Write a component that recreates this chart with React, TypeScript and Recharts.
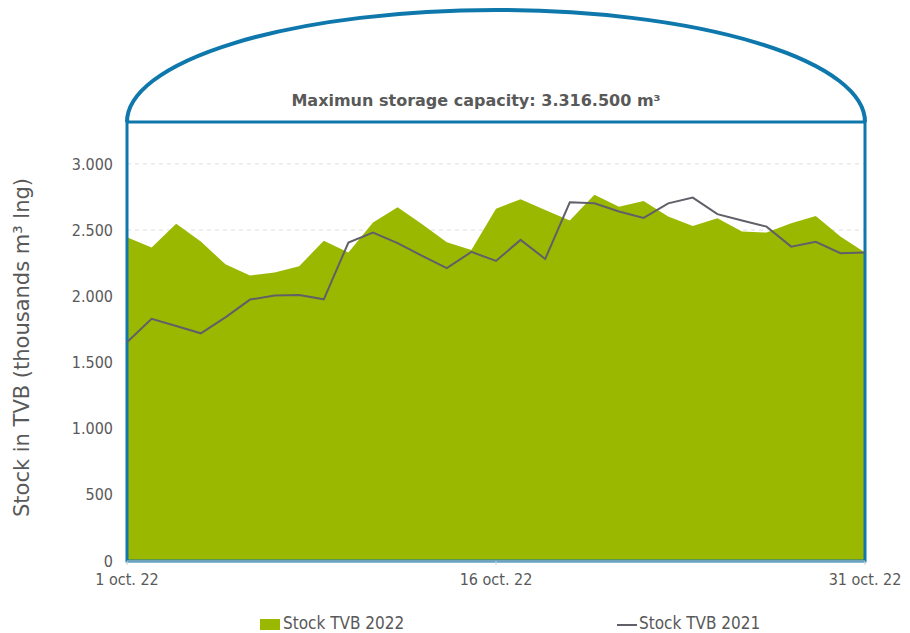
import { ComposedChart, Area, Line, XAxis, YAxis, CartesianGrid, ReferenceArea } from 'recharts';

const days = [1, 2, 3, 4, 5, 6, 7, 8, 9, 10, 11, 12, 13, 14, 15, 16, 17, 18, 19, 20, 21, 22, 23, 24, 25, 26, 27, 28, 29, 30, 31];

const stock2022 = [
    2446, 2368, 2547, 2413, 2242, 2156, 2179, 2227, 2420, 2330,
    2557, 2673, 2544, 2408, 2350, 2662, 2733, 2652, 2572, 2766,
    2677, 2720, 2602, 2531, 2590, 2489, 2481, 2552, 2607, 2451, 2330,
];

const stock2021 = [
    1653, 1829, 1776, 1720, 1841, 1975, 2005, 2010, 1977, 2406,
    2481, 2401, 2305, 2212, 2335, 2267, 2426, 2282, 2710, 2702,
    2640, 2592, 2702, 2745, 2620, 2572, 2526, 2375, 2411, 2325, 2330,
];

const yTicks = [0, 500, 1000, 1500, 2000, 2500, 3000];
const xTicks = [1, 16, 31];
const maxCapacity = 3316.5;

const data = days.map((d, i) => ({ day: d, s2022: stock2022[i], s2021: stock2021[i] }));

const GREEN = '#9bb800';
const GREY_LINE = '#5f6068';
const BLUE = '#0e77ab';
const TEXT = '#595959';
const FONT = '"DejaVu Sans", Verdana, sans-serif';
const COND = '"DejaVu Sans Condensed", "Liberation Sans Narrow", "DejaVu Sans", sans-serif';

const fmt = (v: number) => v.toLocaleString('de-DE');

// capacity box + tank dome on top
const CapacityShape = (props: any) => {
    const { x, y, width, height } = props;
    const archH = 112;
    return (
        <g>
            <rect x={x} y={y} width={width} height={height} fill="none" stroke={BLUE} strokeWidth={3} />
            <path
                d={`M ${x} ${y} A ${width / 2} ${archH} 0 0 1 ${x + width} ${y}`}
                fill="none"
                stroke={BLUE}
                strokeWidth={4}
            />
            <text
                x={x + width / 2 - 20}
                y={y - 16}
                textAnchor="middle"
                fontFamily={FONT}
                fontSize={16}
                fontWeight="bold"
                fill={TEXT}
            >
                Maximun storage capacity: 3.316.500 m³
            </text>
        </g>
    );
};

const App = () => {
    return (
        <div style={{ position: 'relative', width: 910, height: 633, margin: '-8px 0 0 -8px', fontFamily: FONT }}>
            <ComposedChart width={910} height={633} data={data} margin={{ top: 122, right: 45, bottom: 42, left: 47 }}>
                <CartesianGrid vertical={false} strokeDasharray="4 4" stroke="#dddddd" />
                <XAxis
                    dataKey="day"
                    type="number"
                    domain={[1, 31]}
                    ticks={xTicks}
                    tickFormatter={(d: number) => `${d} oct. 22`}
                    tick={{ fill: TEXT, fontSize: 16, fontFamily: COND }}
                    tickLine={{ stroke: '#d0d0d0' }}
                    axisLine={{ stroke: '#d0d0d0' }}
                    tickSize={4}
                    tickMargin={9}
                />
                <YAxis
                    type="number"
                    domain={[0, maxCapacity]}
                    ticks={yTicks}
                    tickFormatter={fmt}
                    width={80}
                    tick={{ fill: TEXT, fontSize: 16, fontFamily: COND }}
                    tickLine={false}
                    axisLine={false}
                    tickMargin={8}
                    label={{
                        value: 'Stock in TVB (thousands m³ lng)',
                        angle: -90,
                        position: 'insideLeft',
                        dx: -30,
                        dy: 6,
                        style: { textAnchor: 'middle', fill: TEXT, fontSize: 21, fontFamily: FONT },
                    }}
                />
                <Area
                    type="linear"
                    dataKey="s2022"
                    fill={GREEN}
                    fillOpacity={1}
                    stroke="none"
                    isAnimationActive={false}
                />
                <Line
                    type="linear"
                    dataKey="s2021"
                    stroke={GREY_LINE}
                    strokeWidth={2}
                    dot={false}
                    isAnimationActive={false}
                />
                <ReferenceArea x1={1} x2={31} y1={0} y2={maxCapacity} shape={CapacityShape} ifOverflow="visible" />
            </ComposedChart>
            <div
                style={{
                    position: 'absolute',
                    top: 613,
                    left: 0,
                    width: 910,
                    fontSize: 17,
                    color: TEXT,
                    fontFamily: COND,
                    whiteSpace: 'nowrap',
                }}
            >
                <span style={{ position: 'absolute', left: 260, top: 6, width: 20, height: 11, background: GREEN }} />
                <span style={{ position: 'absolute', left: 283, top: 0 }}>Stock TVB 2022</span>
                <span style={{ position: 'absolute', left: 617, top: 11, width: 20, height: 2, background: GREY_LINE }} />
                <span style={{ position: 'absolute', left: 639, top: 0 }}>Stock TVB 2021</span>
            </div>
        </div>
    );
};

export default App;
